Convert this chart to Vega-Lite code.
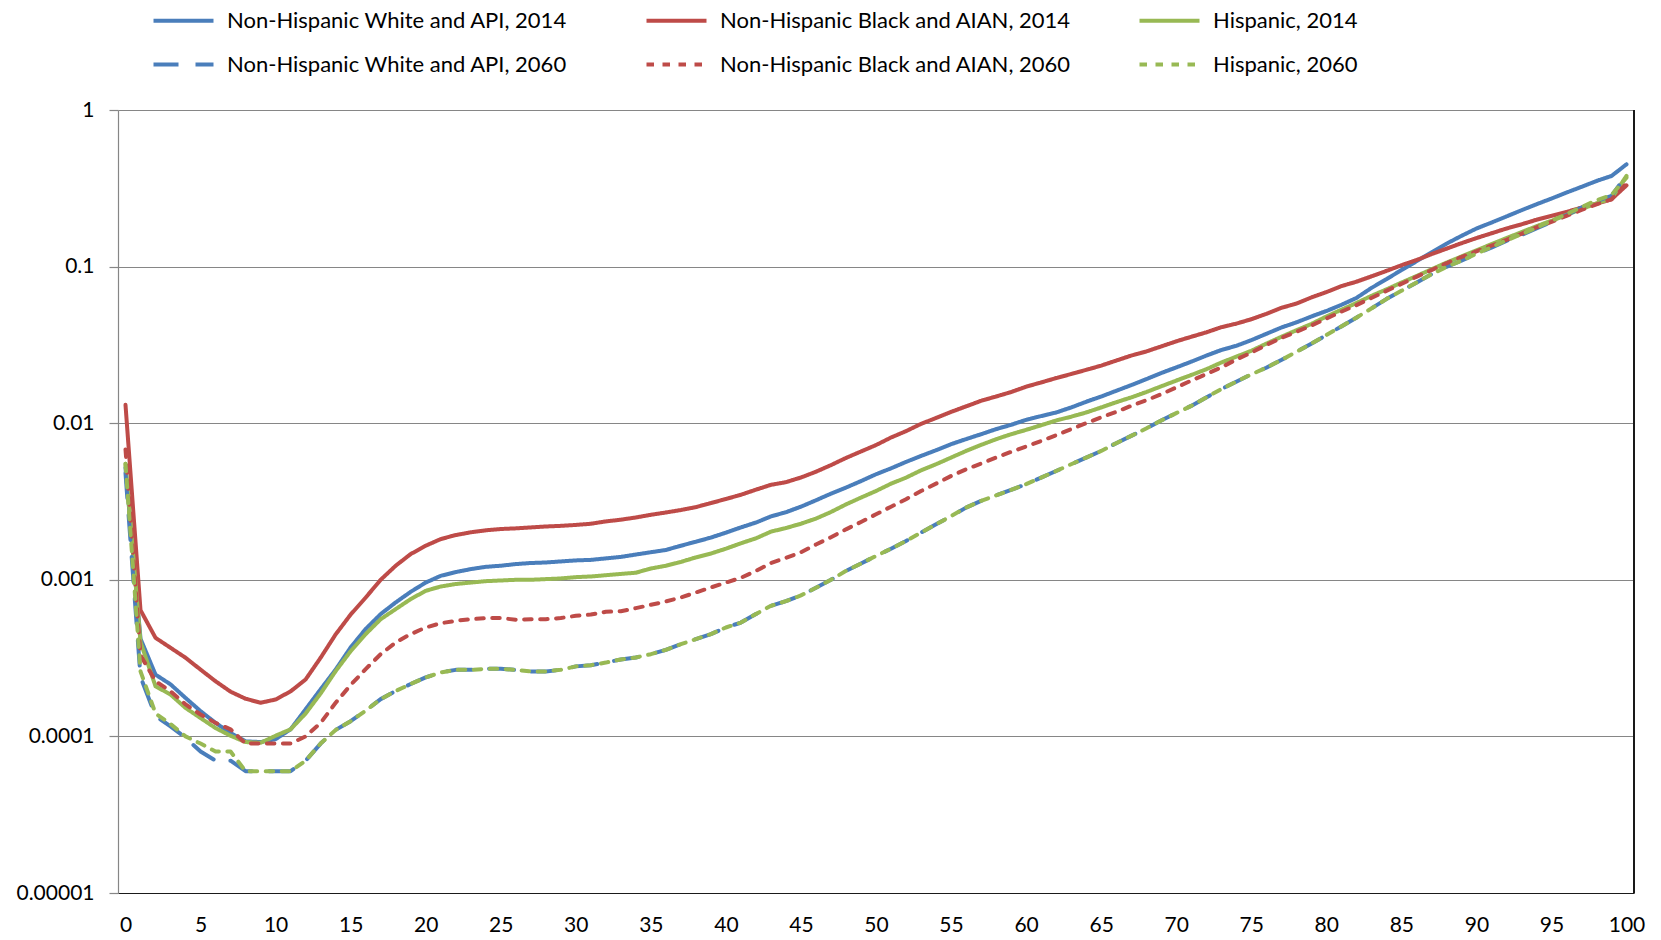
{
  "$schema": "https://vega.github.io/schema/vega-lite/v6.json",
  "width": 1516,
  "height": 783,
  "autosize": {"type": "none"},
  "padding": {"left": 118, "top": 110, "right": 27, "bottom": 47},
  "background": "white",
  "config": {
    "font": "Lato",
    "view": {"stroke": null},
    "axis": {"labelFont": "Lato", "labelColor": "#000000", "titleFont": "Lato"}
  },
  "data": {
    "values": [
      {"series":"Non-Hispanic White and API, 2014","age":0,"rate":0.0052},{"series":"Non-Hispanic White and API, 2014","age":1,"rate":0.00042},{"series":"Non-Hispanic White and API, 2014","age":2,"rate":0.000248},{"series":"Non-Hispanic White and API, 2014","age":3,"rate":0.000215},{"series":"Non-Hispanic White and API, 2014","age":4,"rate":0.000176},{"series":"Non-Hispanic White and API, 2014","age":5,"rate":0.000145},{"series":"Non-Hispanic White and API, 2014","age":6,"rate":0.000122},{"series":"Non-Hispanic White and API, 2014","age":7,"rate":0.000105},{"series":"Non-Hispanic White and API, 2014","age":8,"rate":0.000093},{"series":"Non-Hispanic White and API, 2014","age":9,"rate":0.000092},{"series":"Non-Hispanic White and API, 2014","age":10,"rate":0.000096},{"series":"Non-Hispanic White and API, 2014","age":11,"rate":0.000111},{"series":"Non-Hispanic White and API, 2014","age":12,"rate":0.000149},{"series":"Non-Hispanic White and API, 2014","age":13,"rate":0.0002},{"series":"Non-Hispanic White and API, 2014","age":14,"rate":0.000267},{"series":"Non-Hispanic White and API, 2014","age":15,"rate":0.00037},{"series":"Non-Hispanic White and API, 2014","age":16,"rate":0.000485},{"series":"Non-Hispanic White and API, 2014","age":17,"rate":0.000604},{"series":"Non-Hispanic White and API, 2014","age":18,"rate":0.000717},{"series":"Non-Hispanic White and API, 2014","age":19,"rate":0.000838},{"series":"Non-Hispanic White and API, 2014","age":20,"rate":0.00096},{"series":"Non-Hispanic White and API, 2014","age":21,"rate":0.00106},{"series":"Non-Hispanic White and API, 2014","age":22,"rate":0.00112},{"series":"Non-Hispanic White and API, 2014","age":23,"rate":0.00117},{"series":"Non-Hispanic White and API, 2014","age":24,"rate":0.00121},{"series":"Non-Hispanic White and API, 2014","age":25,"rate":0.00123},{"series":"Non-Hispanic White and API, 2014","age":26,"rate":0.00126},{"series":"Non-Hispanic White and API, 2014","age":27,"rate":0.00128},{"series":"Non-Hispanic White and API, 2014","age":28,"rate":0.00129},{"series":"Non-Hispanic White and API, 2014","age":29,"rate":0.00131},{"series":"Non-Hispanic White and API, 2014","age":30,"rate":0.00133},{"series":"Non-Hispanic White and API, 2014","age":31,"rate":0.00134},{"series":"Non-Hispanic White and API, 2014","age":32,"rate":0.00137},{"series":"Non-Hispanic White and API, 2014","age":33,"rate":0.0014},{"series":"Non-Hispanic White and API, 2014","age":34,"rate":0.00145},{"series":"Non-Hispanic White and API, 2014","age":35,"rate":0.0015},{"series":"Non-Hispanic White and API, 2014","age":36,"rate":0.00155},{"series":"Non-Hispanic White and API, 2014","age":37,"rate":0.00165},{"series":"Non-Hispanic White and API, 2014","age":38,"rate":0.00175},{"series":"Non-Hispanic White and API, 2014","age":39,"rate":0.00186},{"series":"Non-Hispanic White and API, 2014","age":40,"rate":0.002},{"series":"Non-Hispanic White and API, 2014","age":41,"rate":0.00216},{"series":"Non-Hispanic White and API, 2014","age":42,"rate":0.00232},{"series":"Non-Hispanic White and API, 2014","age":43,"rate":0.00254},{"series":"Non-Hispanic White and API, 2014","age":44,"rate":0.0027},{"series":"Non-Hispanic White and API, 2014","age":45,"rate":0.00293},{"series":"Non-Hispanic White and API, 2014","age":46,"rate":0.00322},{"series":"Non-Hispanic White and API, 2014","age":47,"rate":0.00355},{"series":"Non-Hispanic White and API, 2014","age":48,"rate":0.00388},{"series":"Non-Hispanic White and API, 2014","age":49,"rate":0.00427},{"series":"Non-Hispanic White and API, 2014","age":50,"rate":0.00472},{"series":"Non-Hispanic White and API, 2014","age":51,"rate":0.00515},{"series":"Non-Hispanic White and API, 2014","age":52,"rate":0.00566},{"series":"Non-Hispanic White and API, 2014","age":53,"rate":0.00618},{"series":"Non-Hispanic White and API, 2014","age":54,"rate":0.00672},{"series":"Non-Hispanic White and API, 2014","age":55,"rate":0.00734},{"series":"Non-Hispanic White and API, 2014","age":56,"rate":0.00791},{"series":"Non-Hispanic White and API, 2014","age":57,"rate":0.0085},{"series":"Non-Hispanic White and API, 2014","age":58,"rate":0.00916},{"series":"Non-Hispanic White and API, 2014","age":59,"rate":0.00976},{"series":"Non-Hispanic White and API, 2014","age":60,"rate":0.0105},{"series":"Non-Hispanic White and API, 2014","age":61,"rate":0.0111},{"series":"Non-Hispanic White and API, 2014","age":62,"rate":0.0117},{"series":"Non-Hispanic White and API, 2014","age":63,"rate":0.0126},{"series":"Non-Hispanic White and API, 2014","age":64,"rate":0.0137},{"series":"Non-Hispanic White and API, 2014","age":65,"rate":0.0148},{"series":"Non-Hispanic White and API, 2014","age":66,"rate":0.0161},{"series":"Non-Hispanic White and API, 2014","age":67,"rate":0.0175},{"series":"Non-Hispanic White and API, 2014","age":68,"rate":0.0191},{"series":"Non-Hispanic White and API, 2014","age":69,"rate":0.0209},{"series":"Non-Hispanic White and API, 2014","age":70,"rate":0.0227},{"series":"Non-Hispanic White and API, 2014","age":71,"rate":0.0247},{"series":"Non-Hispanic White and API, 2014","age":72,"rate":0.027},{"series":"Non-Hispanic White and API, 2014","age":73,"rate":0.0293},{"series":"Non-Hispanic White and API, 2014","age":74,"rate":0.0312},{"series":"Non-Hispanic White and API, 2014","age":75,"rate":0.0339},{"series":"Non-Hispanic White and API, 2014","age":76,"rate":0.0372},{"series":"Non-Hispanic White and API, 2014","age":77,"rate":0.0408},{"series":"Non-Hispanic White and API, 2014","age":78,"rate":0.044},{"series":"Non-Hispanic White and API, 2014","age":79,"rate":0.048},{"series":"Non-Hispanic White and API, 2014","age":80,"rate":0.052},{"series":"Non-Hispanic White and API, 2014","age":81,"rate":0.057},{"series":"Non-Hispanic White and API, 2014","age":82,"rate":0.063},{"series":"Non-Hispanic White and API, 2014","age":83,"rate":0.073},{"series":"Non-Hispanic White and API, 2014","age":84,"rate":0.083},{"series":"Non-Hispanic White and API, 2014","age":85,"rate":0.095},{"series":"Non-Hispanic White and API, 2014","age":86,"rate":0.108},{"series":"Non-Hispanic White and API, 2014","age":87,"rate":0.123},{"series":"Non-Hispanic White and API, 2014","age":88,"rate":0.14},{"series":"Non-Hispanic White and API, 2014","age":89,"rate":0.157},{"series":"Non-Hispanic White and API, 2014","age":90,"rate":0.175},{"series":"Non-Hispanic White and API, 2014","age":91,"rate":0.191},{"series":"Non-Hispanic White and API, 2014","age":92,"rate":0.209},{"series":"Non-Hispanic White and API, 2014","age":93,"rate":0.229},{"series":"Non-Hispanic White and API, 2014","age":94,"rate":0.25},{"series":"Non-Hispanic White and API, 2014","age":95,"rate":0.272},{"series":"Non-Hispanic White and API, 2014","age":96,"rate":0.297},{"series":"Non-Hispanic White and API, 2014","age":97,"rate":0.323},{"series":"Non-Hispanic White and API, 2014","age":98,"rate":0.352},{"series":"Non-Hispanic White and API, 2014","age":99,"rate":0.379},{"series":"Non-Hispanic White and API, 2014","age":100,"rate":0.45},
      {"series":"Non-Hispanic Black and AIAN, 2014","age":0,"rate":0.0131},{"series":"Non-Hispanic Black and AIAN, 2014","age":1,"rate":0.00064},{"series":"Non-Hispanic Black and AIAN, 2014","age":2,"rate":0.000426},{"series":"Non-Hispanic Black and AIAN, 2014","age":3,"rate":0.000368},{"series":"Non-Hispanic Black and AIAN, 2014","age":4,"rate":0.000318},{"series":"Non-Hispanic Black and AIAN, 2014","age":5,"rate":0.000267},{"series":"Non-Hispanic Black and AIAN, 2014","age":6,"rate":0.000225},{"series":"Non-Hispanic Black and AIAN, 2014","age":7,"rate":0.000193},{"series":"Non-Hispanic Black and AIAN, 2014","age":8,"rate":0.000174},{"series":"Non-Hispanic Black and AIAN, 2014","age":9,"rate":0.000164},{"series":"Non-Hispanic Black and AIAN, 2014","age":10,"rate":0.000172},{"series":"Non-Hispanic Black and AIAN, 2014","age":11,"rate":0.000194},{"series":"Non-Hispanic Black and AIAN, 2014","age":12,"rate":0.000231},{"series":"Non-Hispanic Black and AIAN, 2014","age":13,"rate":0.000318},{"series":"Non-Hispanic Black and AIAN, 2014","age":14,"rate":0.000448},{"series":"Non-Hispanic Black and AIAN, 2014","age":15,"rate":0.0006},{"series":"Non-Hispanic Black and AIAN, 2014","age":16,"rate":0.00077},{"series":"Non-Hispanic Black and AIAN, 2014","age":17,"rate":0.001},{"series":"Non-Hispanic Black and AIAN, 2014","age":18,"rate":0.00123},{"series":"Non-Hispanic Black and AIAN, 2014","age":19,"rate":0.00146},{"series":"Non-Hispanic Black and AIAN, 2014","age":20,"rate":0.00165},{"series":"Non-Hispanic Black and AIAN, 2014","age":21,"rate":0.00182},{"series":"Non-Hispanic Black and AIAN, 2014","age":22,"rate":0.00193},{"series":"Non-Hispanic Black and AIAN, 2014","age":23,"rate":0.00201},{"series":"Non-Hispanic Black and AIAN, 2014","age":24,"rate":0.00207},{"series":"Non-Hispanic Black and AIAN, 2014","age":25,"rate":0.00211},{"series":"Non-Hispanic Black and AIAN, 2014","age":26,"rate":0.00213},{"series":"Non-Hispanic Black and AIAN, 2014","age":27,"rate":0.00216},{"series":"Non-Hispanic Black and AIAN, 2014","age":28,"rate":0.00219},{"series":"Non-Hispanic Black and AIAN, 2014","age":29,"rate":0.00221},{"series":"Non-Hispanic Black and AIAN, 2014","age":30,"rate":0.00224},{"series":"Non-Hispanic Black and AIAN, 2014","age":31,"rate":0.00228},{"series":"Non-Hispanic Black and AIAN, 2014","age":32,"rate":0.00236},{"series":"Non-Hispanic Black and AIAN, 2014","age":33,"rate":0.00242},{"series":"Non-Hispanic Black and AIAN, 2014","age":34,"rate":0.0025},{"series":"Non-Hispanic Black and AIAN, 2014","age":35,"rate":0.0026},{"series":"Non-Hispanic Black and AIAN, 2014","age":36,"rate":0.00269},{"series":"Non-Hispanic Black and AIAN, 2014","age":37,"rate":0.00279},{"series":"Non-Hispanic Black and AIAN, 2014","age":38,"rate":0.00291},{"series":"Non-Hispanic Black and AIAN, 2014","age":39,"rate":0.00309},{"series":"Non-Hispanic Black and AIAN, 2014","age":40,"rate":0.00328},{"series":"Non-Hispanic Black and AIAN, 2014","age":41,"rate":0.00349},{"series":"Non-Hispanic Black and AIAN, 2014","age":42,"rate":0.00376},{"series":"Non-Hispanic Black and AIAN, 2014","age":43,"rate":0.00404},{"series":"Non-Hispanic Black and AIAN, 2014","age":44,"rate":0.0042},{"series":"Non-Hispanic Black and AIAN, 2014","age":45,"rate":0.0045},{"series":"Non-Hispanic Black and AIAN, 2014","age":46,"rate":0.0049},{"series":"Non-Hispanic Black and AIAN, 2014","age":47,"rate":0.0054},{"series":"Non-Hispanic Black and AIAN, 2014","age":48,"rate":0.006},{"series":"Non-Hispanic Black and AIAN, 2014","age":49,"rate":0.0066},{"series":"Non-Hispanic Black and AIAN, 2014","age":50,"rate":0.00725},{"series":"Non-Hispanic Black and AIAN, 2014","age":51,"rate":0.0081},{"series":"Non-Hispanic Black and AIAN, 2014","age":52,"rate":0.0089},{"series":"Non-Hispanic Black and AIAN, 2014","age":53,"rate":0.0099},{"series":"Non-Hispanic Black and AIAN, 2014","age":54,"rate":0.0108},{"series":"Non-Hispanic Black and AIAN, 2014","age":55,"rate":0.0118},{"series":"Non-Hispanic Black and AIAN, 2014","age":56,"rate":0.0128},{"series":"Non-Hispanic Black and AIAN, 2014","age":57,"rate":0.0139},{"series":"Non-Hispanic Black and AIAN, 2014","age":58,"rate":0.0148},{"series":"Non-Hispanic Black and AIAN, 2014","age":59,"rate":0.0158},{"series":"Non-Hispanic Black and AIAN, 2014","age":60,"rate":0.0171},{"series":"Non-Hispanic Black and AIAN, 2014","age":61,"rate":0.0182},{"series":"Non-Hispanic Black and AIAN, 2014","age":62,"rate":0.0194},{"series":"Non-Hispanic Black and AIAN, 2014","age":63,"rate":0.0206},{"series":"Non-Hispanic Black and AIAN, 2014","age":64,"rate":0.0219},{"series":"Non-Hispanic Black and AIAN, 2014","age":65,"rate":0.0233},{"series":"Non-Hispanic Black and AIAN, 2014","age":66,"rate":0.0251},{"series":"Non-Hispanic Black and AIAN, 2014","age":67,"rate":0.027},{"series":"Non-Hispanic Black and AIAN, 2014","age":68,"rate":0.0287},{"series":"Non-Hispanic Black and AIAN, 2014","age":69,"rate":0.0309},{"series":"Non-Hispanic Black and AIAN, 2014","age":70,"rate":0.0333},{"series":"Non-Hispanic Black and AIAN, 2014","age":71,"rate":0.0356},{"series":"Non-Hispanic Black and AIAN, 2014","age":72,"rate":0.038},{"series":"Non-Hispanic Black and AIAN, 2014","age":73,"rate":0.041},{"series":"Non-Hispanic Black and AIAN, 2014","age":74,"rate":0.0432},{"series":"Non-Hispanic Black and AIAN, 2014","age":75,"rate":0.0461},{"series":"Non-Hispanic Black and AIAN, 2014","age":76,"rate":0.0499},{"series":"Non-Hispanic Black and AIAN, 2014","age":77,"rate":0.0545},{"series":"Non-Hispanic Black and AIAN, 2014","age":78,"rate":0.058},{"series":"Non-Hispanic Black and AIAN, 2014","age":79,"rate":0.0635},{"series":"Non-Hispanic Black and AIAN, 2014","age":80,"rate":0.0687},{"series":"Non-Hispanic Black and AIAN, 2014","age":81,"rate":0.075},{"series":"Non-Hispanic Black and AIAN, 2014","age":82,"rate":0.08},{"series":"Non-Hispanic Black and AIAN, 2014","age":83,"rate":0.0865},{"series":"Non-Hispanic Black and AIAN, 2014","age":84,"rate":0.0938},{"series":"Non-Hispanic Black and AIAN, 2014","age":85,"rate":0.102},{"series":"Non-Hispanic Black and AIAN, 2014","age":86,"rate":0.11},{"series":"Non-Hispanic Black and AIAN, 2014","age":87,"rate":0.12},{"series":"Non-Hispanic Black and AIAN, 2014","age":88,"rate":0.13},{"series":"Non-Hispanic Black and AIAN, 2014","age":89,"rate":0.141},{"series":"Non-Hispanic Black and AIAN, 2014","age":90,"rate":0.152},{"series":"Non-Hispanic Black and AIAN, 2014","age":91,"rate":0.163},{"series":"Non-Hispanic Black and AIAN, 2014","age":92,"rate":0.175},{"series":"Non-Hispanic Black and AIAN, 2014","age":93,"rate":0.186},{"series":"Non-Hispanic Black and AIAN, 2014","age":94,"rate":0.199},{"series":"Non-Hispanic Black and AIAN, 2014","age":95,"rate":0.211},{"series":"Non-Hispanic Black and AIAN, 2014","age":96,"rate":0.223},{"series":"Non-Hispanic Black and AIAN, 2014","age":97,"rate":0.238},{"series":"Non-Hispanic Black and AIAN, 2014","age":98,"rate":0.252},{"series":"Non-Hispanic Black and AIAN, 2014","age":99,"rate":0.269},{"series":"Non-Hispanic Black and AIAN, 2014","age":100,"rate":0.33},
      {"series":"Hispanic, 2014","age":0,"rate":0.0055},{"series":"Hispanic, 2014","age":1,"rate":0.0004},{"series":"Hispanic, 2014","age":2,"rate":0.000209},{"series":"Hispanic, 2014","age":3,"rate":0.000185},{"series":"Hispanic, 2014","age":4,"rate":0.000152},{"series":"Hispanic, 2014","age":5,"rate":0.000131},{"series":"Hispanic, 2014","age":6,"rate":0.000113},{"series":"Hispanic, 2014","age":7,"rate":0.000101},{"series":"Hispanic, 2014","age":8,"rate":0.000092},{"series":"Hispanic, 2014","age":9,"rate":0.000091},{"series":"Hispanic, 2014","age":10,"rate":0.000101},{"series":"Hispanic, 2014","age":11,"rate":0.000111},{"series":"Hispanic, 2014","age":12,"rate":0.00014},{"series":"Hispanic, 2014","age":13,"rate":0.000188},{"series":"Hispanic, 2014","age":14,"rate":0.000261},{"series":"Hispanic, 2014","age":15,"rate":0.00035},{"series":"Hispanic, 2014","age":16,"rate":0.00045},{"series":"Hispanic, 2014","age":17,"rate":0.00056},{"series":"Hispanic, 2014","age":18,"rate":0.00065},{"series":"Hispanic, 2014","age":19,"rate":0.000753},{"series":"Hispanic, 2014","age":20,"rate":0.00085},{"series":"Hispanic, 2014","age":21,"rate":0.000906},{"series":"Hispanic, 2014","age":22,"rate":0.00094},{"series":"Hispanic, 2014","age":23,"rate":0.00096},{"series":"Hispanic, 2014","age":24,"rate":0.00098},{"series":"Hispanic, 2014","age":25,"rate":0.00099},{"series":"Hispanic, 2014","age":26,"rate":0.001},{"series":"Hispanic, 2014","age":27,"rate":0.001},{"series":"Hispanic, 2014","age":28,"rate":0.00101},{"series":"Hispanic, 2014","age":29,"rate":0.00102},{"series":"Hispanic, 2014","age":30,"rate":0.00104},{"series":"Hispanic, 2014","age":31,"rate":0.00105},{"series":"Hispanic, 2014","age":32,"rate":0.00107},{"series":"Hispanic, 2014","age":33,"rate":0.00109},{"series":"Hispanic, 2014","age":34,"rate":0.00111},{"series":"Hispanic, 2014","age":35,"rate":0.00118},{"series":"Hispanic, 2014","age":36,"rate":0.00123},{"series":"Hispanic, 2014","age":37,"rate":0.0013},{"series":"Hispanic, 2014","age":38,"rate":0.00139},{"series":"Hispanic, 2014","age":39,"rate":0.00147},{"series":"Hispanic, 2014","age":40,"rate":0.00158},{"series":"Hispanic, 2014","age":41,"rate":0.00171},{"series":"Hispanic, 2014","age":42,"rate":0.00184},{"series":"Hispanic, 2014","age":43,"rate":0.00203},{"series":"Hispanic, 2014","age":44,"rate":0.00214},{"series":"Hispanic, 2014","age":45,"rate":0.00228},{"series":"Hispanic, 2014","age":46,"rate":0.00246},{"series":"Hispanic, 2014","age":47,"rate":0.00271},{"series":"Hispanic, 2014","age":48,"rate":0.00303},{"series":"Hispanic, 2014","age":49,"rate":0.00335},{"series":"Hispanic, 2014","age":50,"rate":0.00369},{"series":"Hispanic, 2014","age":51,"rate":0.00411},{"series":"Hispanic, 2014","age":52,"rate":0.00449},{"series":"Hispanic, 2014","age":53,"rate":0.005},{"series":"Hispanic, 2014","age":54,"rate":0.00547},{"series":"Hispanic, 2014","age":55,"rate":0.00603},{"series":"Hispanic, 2014","age":56,"rate":0.00665},{"series":"Hispanic, 2014","age":57,"rate":0.00727},{"series":"Hispanic, 2014","age":58,"rate":0.0079},{"series":"Hispanic, 2014","age":59,"rate":0.0085},{"series":"Hispanic, 2014","age":60,"rate":0.00906},{"series":"Hispanic, 2014","age":61,"rate":0.0097},{"series":"Hispanic, 2014","age":62,"rate":0.0104},{"series":"Hispanic, 2014","age":63,"rate":0.011},{"series":"Hispanic, 2014","age":64,"rate":0.0117},{"series":"Hispanic, 2014","age":65,"rate":0.0126},{"series":"Hispanic, 2014","age":66,"rate":0.0136},{"series":"Hispanic, 2014","age":67,"rate":0.0146},{"series":"Hispanic, 2014","age":68,"rate":0.0158},{"series":"Hispanic, 2014","age":69,"rate":0.0172},{"series":"Hispanic, 2014","age":70,"rate":0.0187},{"series":"Hispanic, 2014","age":71,"rate":0.0203},{"series":"Hispanic, 2014","age":72,"rate":0.0221},{"series":"Hispanic, 2014","age":73,"rate":0.0244},{"series":"Hispanic, 2014","age":74,"rate":0.0266},{"series":"Hispanic, 2014","age":75,"rate":0.029},{"series":"Hispanic, 2014","age":76,"rate":0.0322},{"series":"Hispanic, 2014","age":77,"rate":0.0356},{"series":"Hispanic, 2014","age":78,"rate":0.0392},{"series":"Hispanic, 2014","age":79,"rate":0.043},{"series":"Hispanic, 2014","age":80,"rate":0.048},{"series":"Hispanic, 2014","age":81,"rate":0.053},{"series":"Hispanic, 2014","age":82,"rate":0.0585},{"series":"Hispanic, 2014","age":83,"rate":0.065},{"series":"Hispanic, 2014","age":84,"rate":0.0715},{"series":"Hispanic, 2014","age":85,"rate":0.079},{"series":"Hispanic, 2014","age":86,"rate":0.087},{"series":"Hispanic, 2014","age":87,"rate":0.096},{"series":"Hispanic, 2014","age":88,"rate":0.106},{"series":"Hispanic, 2014","age":89,"rate":0.116},{"series":"Hispanic, 2014","age":90,"rate":0.127},{"series":"Hispanic, 2014","age":91,"rate":0.139},{"series":"Hispanic, 2014","age":92,"rate":0.152},{"series":"Hispanic, 2014","age":93,"rate":0.166},{"series":"Hispanic, 2014","age":94,"rate":0.181},{"series":"Hispanic, 2014","age":95,"rate":0.196},{"series":"Hispanic, 2014","age":96,"rate":0.214},{"series":"Hispanic, 2014","age":97,"rate":0.233},{"series":"Hispanic, 2014","age":98,"rate":0.253},{"series":"Hispanic, 2014","age":99,"rate":0.272},{"series":"Hispanic, 2014","age":100,"rate":0.38},
      {"series":"Non-Hispanic White and API, 2060","age":0,"rate":0.0048},{"series":"Non-Hispanic White and API, 2060","age":1,"rate":0.00024},{"series":"Non-Hispanic White and API, 2060","age":2,"rate":0.000135},{"series":"Non-Hispanic White and API, 2060","age":3,"rate":0.000116},{"series":"Non-Hispanic White and API, 2060","age":4,"rate":0.000098},{"series":"Non-Hispanic White and API, 2060","age":5,"rate":0.00008},{"series":"Non-Hispanic White and API, 2060","age":6,"rate":0.00007},{"series":"Non-Hispanic White and API, 2060","age":7,"rate":0.00007},{"series":"Non-Hispanic White and API, 2060","age":8,"rate":0.00006},{"series":"Non-Hispanic White and API, 2060","age":9,"rate":0.00006},{"series":"Non-Hispanic White and API, 2060","age":10,"rate":0.00006},{"series":"Non-Hispanic White and API, 2060","age":11,"rate":0.00006},{"series":"Non-Hispanic White and API, 2060","age":12,"rate":0.00007},{"series":"Non-Hispanic White and API, 2060","age":13,"rate":0.00009},{"series":"Non-Hispanic White and API, 2060","age":14,"rate":0.00011},{"series":"Non-Hispanic White and API, 2060","age":15,"rate":0.000125},{"series":"Non-Hispanic White and API, 2060","age":16,"rate":0.000146},{"series":"Non-Hispanic White and API, 2060","age":17,"rate":0.000173},{"series":"Non-Hispanic White and API, 2060","age":18,"rate":0.000195},{"series":"Non-Hispanic White and API, 2060","age":19,"rate":0.000216},{"series":"Non-Hispanic White and API, 2060","age":20,"rate":0.000238},{"series":"Non-Hispanic White and API, 2060","age":21,"rate":0.000256},{"series":"Non-Hispanic White and API, 2060","age":22,"rate":0.000266},{"series":"Non-Hispanic White and API, 2060","age":23,"rate":0.000266},{"series":"Non-Hispanic White and API, 2060","age":24,"rate":0.00027},{"series":"Non-Hispanic White and API, 2060","age":25,"rate":0.00027},{"series":"Non-Hispanic White and API, 2060","age":26,"rate":0.000266},{"series":"Non-Hispanic White and API, 2060","age":27,"rate":0.00026},{"series":"Non-Hispanic White and API, 2060","age":28,"rate":0.00026},{"series":"Non-Hispanic White and API, 2060","age":29,"rate":0.000266},{"series":"Non-Hispanic White and API, 2060","age":30,"rate":0.00028},{"series":"Non-Hispanic White and API, 2060","age":31,"rate":0.000285},{"series":"Non-Hispanic White and API, 2060","age":32,"rate":0.000296},{"series":"Non-Hispanic White and API, 2060","age":33,"rate":0.00031},{"series":"Non-Hispanic White and API, 2060","age":34,"rate":0.000319},{"series":"Non-Hispanic White and API, 2060","age":35,"rate":0.000335},{"series":"Non-Hispanic White and API, 2060","age":36,"rate":0.000357},{"series":"Non-Hispanic White and API, 2060","age":37,"rate":0.000388},{"series":"Non-Hispanic White and API, 2060","age":38,"rate":0.000418},{"series":"Non-Hispanic White and API, 2060","age":39,"rate":0.00045},{"series":"Non-Hispanic White and API, 2060","age":40,"rate":0.000496},{"series":"Non-Hispanic White and API, 2060","age":41,"rate":0.000533},{"series":"Non-Hispanic White and API, 2060","age":42,"rate":0.000604},{"series":"Non-Hispanic White and API, 2060","age":43,"rate":0.000682},{"series":"Non-Hispanic White and API, 2060","age":44,"rate":0.00073},{"series":"Non-Hispanic White and API, 2060","age":45,"rate":0.000795},{"series":"Non-Hispanic White and API, 2060","age":46,"rate":0.00089},{"series":"Non-Hispanic White and API, 2060","age":47,"rate":0.001},{"series":"Non-Hispanic White and API, 2060","age":48,"rate":0.00114},{"series":"Non-Hispanic White and API, 2060","age":49,"rate":0.00127},{"series":"Non-Hispanic White and API, 2060","age":50,"rate":0.00142},{"series":"Non-Hispanic White and API, 2060","age":51,"rate":0.00158},{"series":"Non-Hispanic White and API, 2060","age":52,"rate":0.00177},{"series":"Non-Hispanic White and API, 2060","age":53,"rate":0.002},{"series":"Non-Hispanic White and API, 2060","age":54,"rate":0.00226},{"series":"Non-Hispanic White and API, 2060","age":55,"rate":0.00255},{"series":"Non-Hispanic White and API, 2060","age":56,"rate":0.00289},{"series":"Non-Hispanic White and API, 2060","age":57,"rate":0.00319},{"series":"Non-Hispanic White and API, 2060","age":58,"rate":0.00346},{"series":"Non-Hispanic White and API, 2060","age":59,"rate":0.00375},{"series":"Non-Hispanic White and API, 2060","age":60,"rate":0.00408},{"series":"Non-Hispanic White and API, 2060","age":61,"rate":0.00449},{"series":"Non-Hispanic White and API, 2060","age":62,"rate":0.00495},{"series":"Non-Hispanic White and API, 2060","age":63,"rate":0.00547},{"series":"Non-Hispanic White and API, 2060","age":64,"rate":0.00603},{"series":"Non-Hispanic White and API, 2060","age":65,"rate":0.00665},{"series":"Non-Hispanic White and API, 2060","age":66,"rate":0.00745},{"series":"Non-Hispanic White and API, 2060","age":67,"rate":0.0083},{"series":"Non-Hispanic White and API, 2060","age":68,"rate":0.00925},{"series":"Non-Hispanic White and API, 2060","age":69,"rate":0.0104},{"series":"Non-Hispanic White and API, 2060","age":70,"rate":0.0116},{"series":"Non-Hispanic White and API, 2060","age":71,"rate":0.0129},{"series":"Non-Hispanic White and API, 2060","age":72,"rate":0.0146},{"series":"Non-Hispanic White and API, 2060","age":73,"rate":0.0165},{"series":"Non-Hispanic White and API, 2060","age":74,"rate":0.0184},{"series":"Non-Hispanic White and API, 2060","age":75,"rate":0.0205},{"series":"Non-Hispanic White and API, 2060","age":76,"rate":0.0226},{"series":"Non-Hispanic White and API, 2060","age":77,"rate":0.0253},{"series":"Non-Hispanic White and API, 2060","age":78,"rate":0.0285},{"series":"Non-Hispanic White and API, 2060","age":79,"rate":0.0322},{"series":"Non-Hispanic White and API, 2060","age":80,"rate":0.0365},{"series":"Non-Hispanic White and API, 2060","age":81,"rate":0.0415},{"series":"Non-Hispanic White and API, 2060","age":82,"rate":0.0472},{"series":"Non-Hispanic White and API, 2060","age":83,"rate":0.054},{"series":"Non-Hispanic White and API, 2060","age":84,"rate":0.062},{"series":"Non-Hispanic White and API, 2060","age":85,"rate":0.07},{"series":"Non-Hispanic White and API, 2060","age":86,"rate":0.079},{"series":"Non-Hispanic White and API, 2060","age":87,"rate":0.0893},{"series":"Non-Hispanic White and API, 2060","age":88,"rate":0.0995},{"series":"Non-Hispanic White and API, 2060","age":89,"rate":0.109},{"series":"Non-Hispanic White and API, 2060","age":90,"rate":0.121},{"series":"Non-Hispanic White and API, 2060","age":91,"rate":0.132},{"series":"Non-Hispanic White and API, 2060","age":92,"rate":0.146},{"series":"Non-Hispanic White and API, 2060","age":93,"rate":0.159},{"series":"Non-Hispanic White and API, 2060","age":94,"rate":0.175},{"series":"Non-Hispanic White and API, 2060","age":95,"rate":0.193},{"series":"Non-Hispanic White and API, 2060","age":96,"rate":0.213},{"series":"Non-Hispanic White and API, 2060","age":97,"rate":0.238},{"series":"Non-Hispanic White and API, 2060","age":98,"rate":0.262},{"series":"Non-Hispanic White and API, 2060","age":99,"rate":0.283},{"series":"Non-Hispanic White and API, 2060","age":100,"rate":0.385},
      {"series":"Non-Hispanic Black and AIAN, 2060","age":0,"rate":0.0068},{"series":"Non-Hispanic Black and AIAN, 2060","age":1,"rate":0.00033},{"series":"Non-Hispanic Black and AIAN, 2060","age":2,"rate":0.000225},{"series":"Non-Hispanic Black and AIAN, 2060","age":3,"rate":0.000194},{"series":"Non-Hispanic Black and AIAN, 2060","age":4,"rate":0.00016},{"series":"Non-Hispanic Black and AIAN, 2060","age":5,"rate":0.000138},{"series":"Non-Hispanic Black and AIAN, 2060","age":6,"rate":0.000122},{"series":"Non-Hispanic Black and AIAN, 2060","age":7,"rate":0.000111},{"series":"Non-Hispanic Black and AIAN, 2060","age":8,"rate":0.00009},{"series":"Non-Hispanic Black and AIAN, 2060","age":9,"rate":0.00009},{"series":"Non-Hispanic Black and AIAN, 2060","age":10,"rate":0.00009},{"series":"Non-Hispanic Black and AIAN, 2060","age":11,"rate":0.00009},{"series":"Non-Hispanic Black and AIAN, 2060","age":12,"rate":0.0001},{"series":"Non-Hispanic Black and AIAN, 2060","age":13,"rate":0.000122},{"series":"Non-Hispanic Black and AIAN, 2060","age":14,"rate":0.000164},{"series":"Non-Hispanic Black and AIAN, 2060","age":15,"rate":0.000213},{"series":"Non-Hispanic Black and AIAN, 2060","age":16,"rate":0.000269},{"series":"Non-Hispanic Black and AIAN, 2060","age":17,"rate":0.000335},{"series":"Non-Hispanic Black and AIAN, 2060","age":18,"rate":0.000398},{"series":"Non-Hispanic Black and AIAN, 2060","age":19,"rate":0.00045},{"series":"Non-Hispanic Black and AIAN, 2060","age":20,"rate":0.000496},{"series":"Non-Hispanic Black and AIAN, 2060","age":21,"rate":0.000528},{"series":"Non-Hispanic Black and AIAN, 2060","age":22,"rate":0.000547},{"series":"Non-Hispanic Black and AIAN, 2060","age":23,"rate":0.00056},{"series":"Non-Hispanic Black and AIAN, 2060","age":24,"rate":0.000569},{"series":"Non-Hispanic Black and AIAN, 2060","age":25,"rate":0.00057},{"series":"Non-Hispanic Black and AIAN, 2060","age":26,"rate":0.000556},{"series":"Non-Hispanic Black and AIAN, 2060","age":27,"rate":0.00056},{"series":"Non-Hispanic Black and AIAN, 2060","age":28,"rate":0.00056},{"series":"Non-Hispanic Black and AIAN, 2060","age":29,"rate":0.00057},{"series":"Non-Hispanic Black and AIAN, 2060","age":30,"rate":0.000589},{"series":"Non-Hispanic Black and AIAN, 2060","age":31,"rate":0.0006},{"series":"Non-Hispanic Black and AIAN, 2060","age":32,"rate":0.000625},{"series":"Non-Hispanic Black and AIAN, 2060","age":33,"rate":0.00063},{"series":"Non-Hispanic Black and AIAN, 2060","age":34,"rate":0.000659},{"series":"Non-Hispanic Black and AIAN, 2060","age":35,"rate":0.000692},{"series":"Non-Hispanic Black and AIAN, 2060","age":36,"rate":0.000727},{"series":"Non-Hispanic Black and AIAN, 2060","age":37,"rate":0.000771},{"series":"Non-Hispanic Black and AIAN, 2060","age":38,"rate":0.00083},{"series":"Non-Hispanic Black and AIAN, 2060","age":39,"rate":0.000893},{"series":"Non-Hispanic Black and AIAN, 2060","age":40,"rate":0.00096},{"series":"Non-Hispanic Black and AIAN, 2060","age":41,"rate":0.00103},{"series":"Non-Hispanic Black and AIAN, 2060","age":42,"rate":0.00114},{"series":"Non-Hispanic Black and AIAN, 2060","age":43,"rate":0.00128},{"series":"Non-Hispanic Black and AIAN, 2060","age":44,"rate":0.00138},{"series":"Non-Hispanic Black and AIAN, 2060","age":45,"rate":0.0015},{"series":"Non-Hispanic Black and AIAN, 2060","age":46,"rate":0.00168},{"series":"Non-Hispanic Black and AIAN, 2060","age":47,"rate":0.00187},{"series":"Non-Hispanic Black and AIAN, 2060","age":48,"rate":0.0021},{"series":"Non-Hispanic Black and AIAN, 2060","age":49,"rate":0.00234},{"series":"Non-Hispanic Black and AIAN, 2060","age":50,"rate":0.00262},{"series":"Non-Hispanic Black and AIAN, 2060","age":51,"rate":0.00293},{"series":"Non-Hispanic Black and AIAN, 2060","age":52,"rate":0.00327},{"series":"Non-Hispanic Black and AIAN, 2060","age":53,"rate":0.00369},{"series":"Non-Hispanic Black and AIAN, 2060","age":54,"rate":0.00411},{"series":"Non-Hispanic Black and AIAN, 2060","age":55,"rate":0.0046},{"series":"Non-Hispanic Black and AIAN, 2060","age":56,"rate":0.00508},{"series":"Non-Hispanic Black and AIAN, 2060","age":57,"rate":0.00552},{"series":"Non-Hispanic Black and AIAN, 2060","age":58,"rate":0.00603},{"series":"Non-Hispanic Black and AIAN, 2060","age":59,"rate":0.00656},{"series":"Non-Hispanic Black and AIAN, 2060","age":60,"rate":0.0071},{"series":"Non-Hispanic Black and AIAN, 2060","age":61,"rate":0.0077},{"series":"Non-Hispanic Black and AIAN, 2060","age":62,"rate":0.00838},{"series":"Non-Hispanic Black and AIAN, 2060","age":63,"rate":0.00916},{"series":"Non-Hispanic Black and AIAN, 2060","age":64,"rate":0.01},{"series":"Non-Hispanic Black and AIAN, 2060","age":65,"rate":0.0109},{"series":"Non-Hispanic Black and AIAN, 2060","age":66,"rate":0.0118},{"series":"Non-Hispanic Black and AIAN, 2060","age":67,"rate":0.0129},{"series":"Non-Hispanic Black and AIAN, 2060","age":68,"rate":0.014},{"series":"Non-Hispanic Black and AIAN, 2060","age":69,"rate":0.0153},{"series":"Non-Hispanic Black and AIAN, 2060","age":70,"rate":0.0169},{"series":"Non-Hispanic Black and AIAN, 2060","age":71,"rate":0.0187},{"series":"Non-Hispanic Black and AIAN, 2060","age":72,"rate":0.0206},{"series":"Non-Hispanic Black and AIAN, 2060","age":73,"rate":0.0227},{"series":"Non-Hispanic Black and AIAN, 2060","age":74,"rate":0.0255},{"series":"Non-Hispanic Black and AIAN, 2060","age":75,"rate":0.0282},{"series":"Non-Hispanic Black and AIAN, 2060","age":76,"rate":0.0316},{"series":"Non-Hispanic Black and AIAN, 2060","age":77,"rate":0.035},{"series":"Non-Hispanic Black and AIAN, 2060","age":78,"rate":0.0383},{"series":"Non-Hispanic Black and AIAN, 2060","age":79,"rate":0.042},{"series":"Non-Hispanic Black and AIAN, 2060","age":80,"rate":0.0466},{"series":"Non-Hispanic Black and AIAN, 2060","age":81,"rate":0.0515},{"series":"Non-Hispanic Black and AIAN, 2060","age":82,"rate":0.0567},{"series":"Non-Hispanic Black and AIAN, 2060","age":83,"rate":0.063},{"series":"Non-Hispanic Black and AIAN, 2060","age":84,"rate":0.07},{"series":"Non-Hispanic Black and AIAN, 2060","age":85,"rate":0.0775},{"series":"Non-Hispanic Black and AIAN, 2060","age":86,"rate":0.086},{"series":"Non-Hispanic Black and AIAN, 2060","age":87,"rate":0.095},{"series":"Non-Hispanic Black and AIAN, 2060","age":88,"rate":0.105},{"series":"Non-Hispanic Black and AIAN, 2060","age":89,"rate":0.115},{"series":"Non-Hispanic Black and AIAN, 2060","age":90,"rate":0.125},{"series":"Non-Hispanic Black and AIAN, 2060","age":91,"rate":0.136},{"series":"Non-Hispanic Black and AIAN, 2060","age":92,"rate":0.148},{"series":"Non-Hispanic Black and AIAN, 2060","age":93,"rate":0.162},{"series":"Non-Hispanic Black and AIAN, 2060","age":94,"rate":0.178},{"series":"Non-Hispanic Black and AIAN, 2060","age":95,"rate":0.193},{"series":"Non-Hispanic Black and AIAN, 2060","age":96,"rate":0.211},{"series":"Non-Hispanic Black and AIAN, 2060","age":97,"rate":0.23},{"series":"Non-Hispanic Black and AIAN, 2060","age":98,"rate":0.25},{"series":"Non-Hispanic Black and AIAN, 2060","age":99,"rate":0.269},{"series":"Non-Hispanic Black and AIAN, 2060","age":100,"rate":0.34},
      {"series":"Hispanic, 2060","age":0,"rate":0.0055},{"series":"Hispanic, 2060","age":1,"rate":0.00026},{"series":"Hispanic, 2060","age":2,"rate":0.00014},{"series":"Hispanic, 2060","age":3,"rate":0.00012},{"series":"Hispanic, 2060","age":4,"rate":0.0001},{"series":"Hispanic, 2060","age":5,"rate":0.00009},{"series":"Hispanic, 2060","age":6,"rate":0.00008},{"series":"Hispanic, 2060","age":7,"rate":0.00008},{"series":"Hispanic, 2060","age":8,"rate":0.00006},{"series":"Hispanic, 2060","age":9,"rate":0.00006},{"series":"Hispanic, 2060","age":10,"rate":0.00006},{"series":"Hispanic, 2060","age":11,"rate":0.00006},{"series":"Hispanic, 2060","age":12,"rate":0.00007},{"series":"Hispanic, 2060","age":13,"rate":0.00009},{"series":"Hispanic, 2060","age":14,"rate":0.00011},{"series":"Hispanic, 2060","age":15,"rate":0.000125},{"series":"Hispanic, 2060","age":16,"rate":0.000146},{"series":"Hispanic, 2060","age":17,"rate":0.000173},{"series":"Hispanic, 2060","age":18,"rate":0.000195},{"series":"Hispanic, 2060","age":19,"rate":0.000216},{"series":"Hispanic, 2060","age":20,"rate":0.000238},{"series":"Hispanic, 2060","age":21,"rate":0.000256},{"series":"Hispanic, 2060","age":22,"rate":0.000266},{"series":"Hispanic, 2060","age":23,"rate":0.000266},{"series":"Hispanic, 2060","age":24,"rate":0.00027},{"series":"Hispanic, 2060","age":25,"rate":0.00027},{"series":"Hispanic, 2060","age":26,"rate":0.000266},{"series":"Hispanic, 2060","age":27,"rate":0.00026},{"series":"Hispanic, 2060","age":28,"rate":0.00026},{"series":"Hispanic, 2060","age":29,"rate":0.000266},{"series":"Hispanic, 2060","age":30,"rate":0.00028},{"series":"Hispanic, 2060","age":31,"rate":0.000285},{"series":"Hispanic, 2060","age":32,"rate":0.000296},{"series":"Hispanic, 2060","age":33,"rate":0.00031},{"series":"Hispanic, 2060","age":34,"rate":0.000319},{"series":"Hispanic, 2060","age":35,"rate":0.000335},{"series":"Hispanic, 2060","age":36,"rate":0.000357},{"series":"Hispanic, 2060","age":37,"rate":0.000388},{"series":"Hispanic, 2060","age":38,"rate":0.000418},{"series":"Hispanic, 2060","age":39,"rate":0.00045},{"series":"Hispanic, 2060","age":40,"rate":0.000496},{"series":"Hispanic, 2060","age":41,"rate":0.000533},{"series":"Hispanic, 2060","age":42,"rate":0.000604},{"series":"Hispanic, 2060","age":43,"rate":0.000682},{"series":"Hispanic, 2060","age":44,"rate":0.00073},{"series":"Hispanic, 2060","age":45,"rate":0.000795},{"series":"Hispanic, 2060","age":46,"rate":0.00089},{"series":"Hispanic, 2060","age":47,"rate":0.001},{"series":"Hispanic, 2060","age":48,"rate":0.00114},{"series":"Hispanic, 2060","age":49,"rate":0.00127},{"series":"Hispanic, 2060","age":50,"rate":0.00142},{"series":"Hispanic, 2060","age":51,"rate":0.00158},{"series":"Hispanic, 2060","age":52,"rate":0.00177},{"series":"Hispanic, 2060","age":53,"rate":0.002},{"series":"Hispanic, 2060","age":54,"rate":0.00226},{"series":"Hispanic, 2060","age":55,"rate":0.00255},{"series":"Hispanic, 2060","age":56,"rate":0.00289},{"series":"Hispanic, 2060","age":57,"rate":0.00319},{"series":"Hispanic, 2060","age":58,"rate":0.00346},{"series":"Hispanic, 2060","age":59,"rate":0.00375},{"series":"Hispanic, 2060","age":60,"rate":0.00408},{"series":"Hispanic, 2060","age":61,"rate":0.00449},{"series":"Hispanic, 2060","age":62,"rate":0.00495},{"series":"Hispanic, 2060","age":63,"rate":0.00547},{"series":"Hispanic, 2060","age":64,"rate":0.00603},{"series":"Hispanic, 2060","age":65,"rate":0.00665},{"series":"Hispanic, 2060","age":66,"rate":0.00745},{"series":"Hispanic, 2060","age":67,"rate":0.0083},{"series":"Hispanic, 2060","age":68,"rate":0.00925},{"series":"Hispanic, 2060","age":69,"rate":0.0104},{"series":"Hispanic, 2060","age":70,"rate":0.0116},{"series":"Hispanic, 2060","age":71,"rate":0.0129},{"series":"Hispanic, 2060","age":72,"rate":0.0146},{"series":"Hispanic, 2060","age":73,"rate":0.0165},{"series":"Hispanic, 2060","age":74,"rate":0.0184},{"series":"Hispanic, 2060","age":75,"rate":0.0205},{"series":"Hispanic, 2060","age":76,"rate":0.0226},{"series":"Hispanic, 2060","age":77,"rate":0.0253},{"series":"Hispanic, 2060","age":78,"rate":0.0285},{"series":"Hispanic, 2060","age":79,"rate":0.0322},{"series":"Hispanic, 2060","age":80,"rate":0.0365},{"series":"Hispanic, 2060","age":81,"rate":0.0415},{"series":"Hispanic, 2060","age":82,"rate":0.0472},{"series":"Hispanic, 2060","age":83,"rate":0.054},{"series":"Hispanic, 2060","age":84,"rate":0.062},{"series":"Hispanic, 2060","age":85,"rate":0.07},{"series":"Hispanic, 2060","age":86,"rate":0.079},{"series":"Hispanic, 2060","age":87,"rate":0.0893},{"series":"Hispanic, 2060","age":88,"rate":0.0995},{"series":"Hispanic, 2060","age":89,"rate":0.109},{"series":"Hispanic, 2060","age":90,"rate":0.121},{"series":"Hispanic, 2060","age":91,"rate":0.133},{"series":"Hispanic, 2060","age":92,"rate":0.147},{"series":"Hispanic, 2060","age":93,"rate":0.161},{"series":"Hispanic, 2060","age":94,"rate":0.177},{"series":"Hispanic, 2060","age":95,"rate":0.196},{"series":"Hispanic, 2060","age":96,"rate":0.216},{"series":"Hispanic, 2060","age":97,"rate":0.24},{"series":"Hispanic, 2060","age":98,"rate":0.265},{"series":"Hispanic, 2060","age":99,"rate":0.287},{"series":"Hispanic, 2060","age":100,"rate":0.37}
    ]
  },
  "encoding": {
    "x": {
      "field": "age",
      "type": "quantitative",
      "scale": {"domain": [-0.5, 100.5], "nice": false, "zero": false},
      "axis": {
        "title": null,
        "values": [0, 5, 10, 15, 20, 25, 30, 35, 40, 45, 50, 55, 60, 65, 70, 75, 80, 85, 90, 95, 100],
        "grid": false,
        "ticks": false,
        "domainColor": "#1a1a1a",
        "domainWidth": 1.2,
        "labelFontSize": 21,
        "labelPadding": 21,
        "labelFlush": false
      }
    },
    "y": {
      "field": "rate",
      "type": "quantitative",
      "scale": {"type": "log", "domain": [0.00001, 1], "nice": false},
      "axis": {
        "title": null,
        "values": [1, 0.1, 0.01, 0.001, 0.0001, 0.00001],
        "format": ".5~f",
        "grid": true,
        "gridColor": "#868686",
        "gridWidth": 1.2,
        "domainColor": "#868686",
        "domainWidth": 1.2,
        "tickColor": "#868686",
        "tickSize": 9,
        "tickWidth": 1.2,
        "labelFontSize": 21,
        "labelPadding": 15,
        "labelBaseline": "middle"
      }
    },
    "color": {
      "field": "series",
      "type": "nominal",
      "scale": {
        "domain": ["Non-Hispanic White and API, 2014", "Non-Hispanic Black and AIAN, 2014", "Hispanic, 2014", "Non-Hispanic White and API, 2060", "Non-Hispanic Black and AIAN, 2060", "Hispanic, 2060"],
        "range": ["#4A7EBB", "#BE4B48", "#98B954", "#4A7EBB", "#BE4B48", "#98B954"]
      },
      "legend": {
        "title": null,
        "orient": "none",
        "legendX": 33,
        "legendY": -122,
        "direction": "horizontal",
        "columns": 3,
        "gridAlign": "all",
        "columnPadding": 60,
        "rowPadding": 0,
        "padding": 0,
        "symbolType": "stroke",
        "symbolSize": 3600,
        "symbolStrokeWidth": 4.2,
        "labelFont": "Lato",
        "labelFontSize": 22,
        "labelColor": "#000000",
        "labelLimit": 600,
        "labelOffset": 11,
        "symbolOffset": 0
      }
    },
    "strokeDash": {
      "field": "series",
      "type": "nominal",
      "scale": {
        "domain": ["Non-Hispanic White and API, 2014", "Non-Hispanic Black and AIAN, 2014", "Hispanic, 2014", "Non-Hispanic White and API, 2060", "Non-Hispanic Black and AIAN, 2060", "Hispanic, 2060"],
        "range": [[1, 0], [1, 0], [1, 0], [25, 17], [7.5, 8.5], [7.5, 8.5]]
      }
    }
  },
  "layer": [
    {
      "transform": [{"filter": {"field": "series", "equal": "Non-Hispanic White and API, 2014"}}],
      "mark": {"type": "line", "strokeWidth": 4, "strokeCap": "round", "strokeJoin": "round", "clip": true}
    },
    {
      "transform": [{"filter": {"field": "series", "equal": "Non-Hispanic Black and AIAN, 2014"}}],
      "mark": {"type": "line", "strokeWidth": 4, "strokeCap": "round", "strokeJoin": "round", "clip": true}
    },
    {
      "transform": [{"filter": {"field": "series", "equal": "Hispanic, 2014"}}],
      "mark": {"type": "line", "strokeWidth": 4, "strokeCap": "round", "strokeJoin": "round", "clip": true}
    },
    {
      "transform": [{"filter": {"field": "series", "equal": "Non-Hispanic White and API, 2060"}}],
      "mark": {"type": "line", "strokeWidth": 4, "strokeCap": "round", "strokeJoin": "round", "clip": true}
    },
    {
      "transform": [{"filter": {"field": "series", "equal": "Non-Hispanic Black and AIAN, 2060"}}],
      "mark": {"type": "line", "strokeWidth": 4, "strokeCap": "round", "strokeJoin": "round", "clip": true}
    },
    {
      "transform": [{"filter": {"field": "series", "equal": "Hispanic, 2060"}}],
      "mark": {"type": "line", "strokeWidth": 4, "strokeCap": "round", "strokeJoin": "round", "clip": true}
    },
    {
      "mark": {"type": "rule", "color": "#1a1a1a", "strokeWidth": 1.2},
      "encoding": {
        "x": {"datum": 100.5},
        "y": {"datum": 1},
        "y2": {"datum": 0.00001},
        "color": null,
        "strokeDash": null
      }
    }
  ]
}
